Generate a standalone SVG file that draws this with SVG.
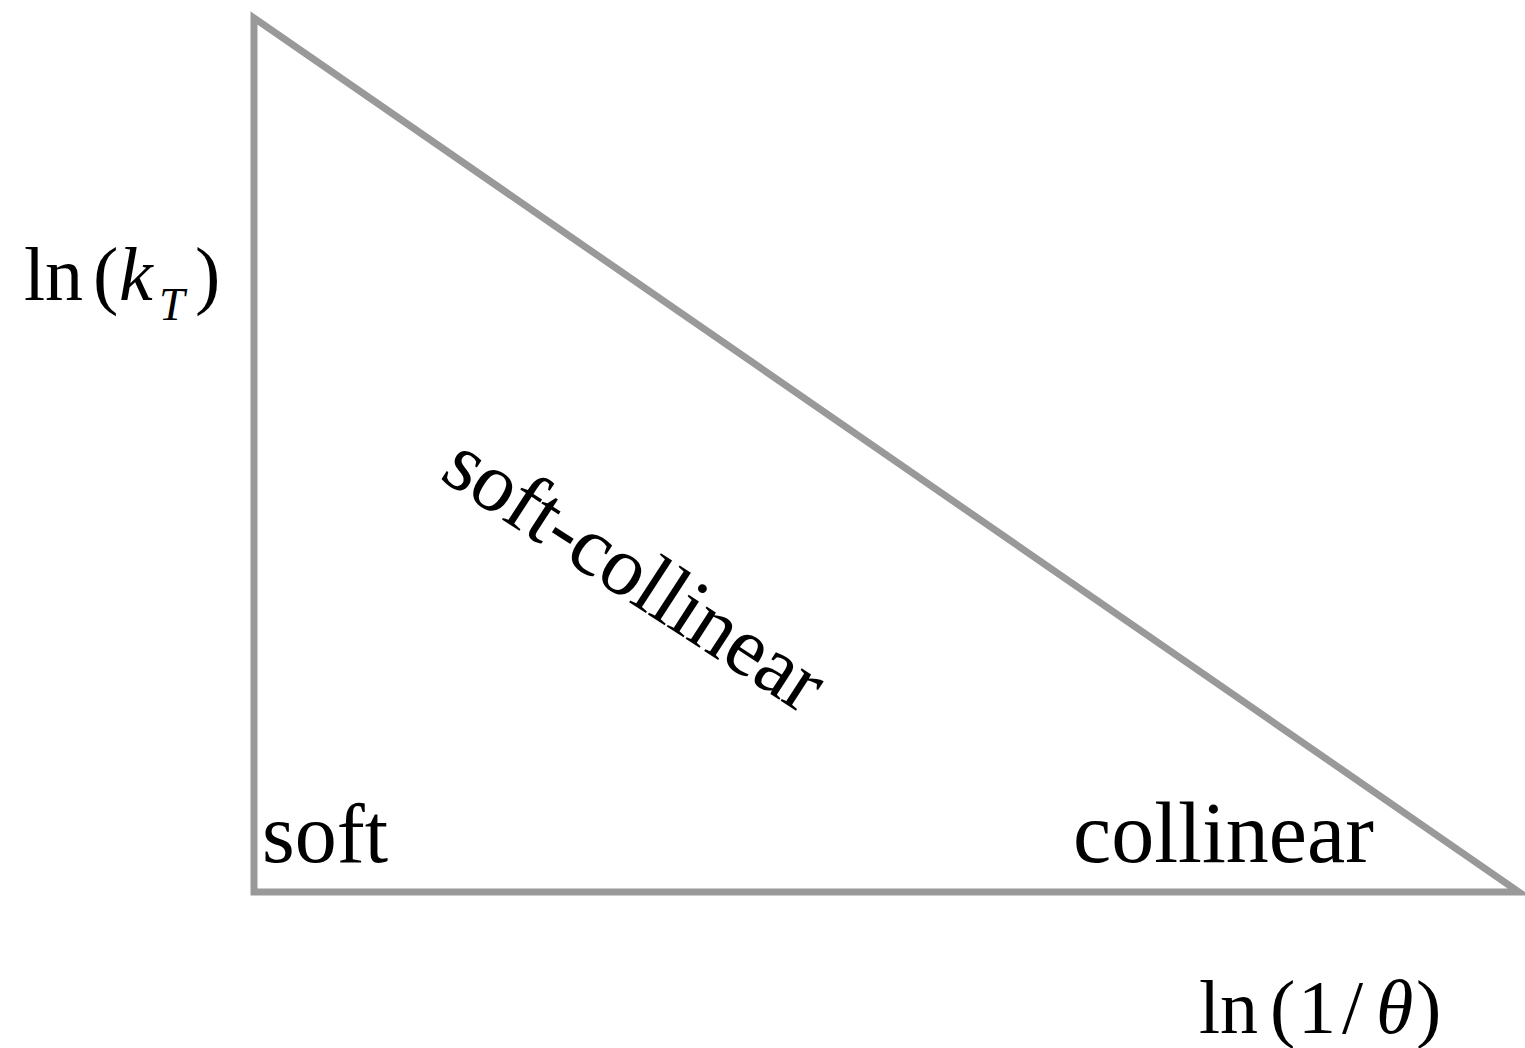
<svg xmlns="http://www.w3.org/2000/svg" width="1525" height="1048" viewBox="0 0 1525 1048">
<style>
.t{font-family:"Liberation Serif","Times New Roman",serif;fill:#000}
.i{font-style:italic}
.edge{fill:none;stroke:#999999;stroke-width:7;stroke-linejoin:miter;stroke-miterlimit:20}
</style>
<rect width="1525" height="1048" fill="#ffffff"/>
<g id="connectors">
<polygon class="edge" points="254,18 254,892 1519,892"/>
</g>
<g id="label-kt">
<text class="t" font-size="76" y="300"><tspan x="24">ln</tspan><tspan x="93">(</tspan></text>
<text class="t i" font-size="76" x="119" y="300">k</text>
<text class="t i" font-size="46" x="159" y="320">T</text>
<text class="t" font-size="76" x="195" y="300">)</text>
</g>
<g id="label-theta">
<text class="t" font-size="76" y="1033"><tspan x="1199">ln</tspan><tspan x="1270">(</tspan><tspan x="1298">1</tspan><tspan x="1342">/</tspan><tspan class="i" x="1376">θ</tspan><tspan x="1416">)</tspan></text>
</g>
<g id="soft">
<text class="t" font-size="84" x="262" y="862">soft</text>
</g>
<g id="collinear">
<text class="t" font-size="86" x="1073" y="862">collinear</text>
</g>
<g id="soft-collinear">
<text class="t" font-size="84" x="0" y="0" textLength="435" lengthAdjust="spacing" transform="translate(438,478) rotate(33)">soft-collinear</text>
</g>
</svg>
